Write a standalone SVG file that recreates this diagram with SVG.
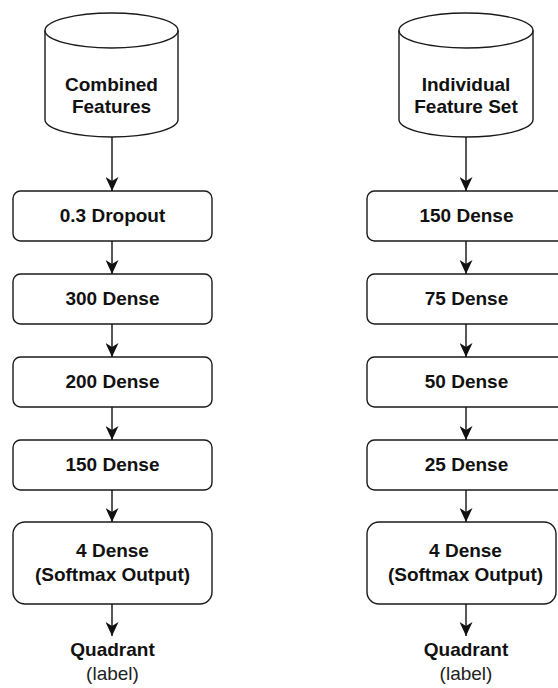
<svg xmlns="http://www.w3.org/2000/svg" width="558" height="688" viewBox="0 0 558 688">
  <style>
    .shape { fill: #ffffff; stroke: #1a1a1a; stroke-width: 1.4; }
    .lbl { font-family: "Liberation Sans", Arial, sans-serif; font-size: 19px; font-weight: bold; fill: #111111; text-anchor: middle; }
    .sub { font-family: "Liberation Sans", Arial, sans-serif; font-size: 19px; fill: #222222; text-anchor: middle; }
    .edge { fill: none; stroke: #111111; stroke-width: 1.4; marker-end: url(#arrow); }
  </style>
  <defs>
    <marker id="arrow" viewBox="0 0 14 13" refX="14" refY="6.5" markerWidth="14" markerHeight="13" markerUnits="userSpaceOnUse" orient="auto">
      <path d="M14,6.5 L0,0 L4,6.5 L0,13 Z" fill="#111111"/>
    </marker>
  </defs>
  <rect width="558" height="688" fill="#ffffff"/>

  <!-- left pipeline -->
  <g id="combined-features">
    <path class="shape" d="M45,30.5 L45,119.5 A66.5,17.5 0 0 0 178,119.5 L178,30.5 A66.5,17.5 0 0 0 45,30.5 Z"/>
    <path class="shape" style="fill:none" d="M45,30.5 A66.5,17.5 0 0 0 178,30.5"/>
    <text class="lbl" x="111.5" y="91">Combined</text>
    <text class="lbl" x="111.5" y="113">Features</text>
  </g>
  <g id="l-dropout">
    <rect class="shape" x="13" y="191" width="199" height="50" rx="7.5"/>
    <text class="lbl" x="112.5" y="222">0.3 Dropout</text>
  </g>
  <g id="l-dense300">
    <rect class="shape" x="13" y="274" width="199" height="50" rx="7.5"/>
    <text class="lbl" x="112.5" y="305">300 Dense</text>
  </g>
  <g id="l-dense200">
    <rect class="shape" x="13" y="357" width="199" height="50" rx="7.5"/>
    <text class="lbl" x="112.5" y="388">200 Dense</text>
  </g>
  <g id="l-dense150">
    <rect class="shape" x="13" y="440" width="199" height="50" rx="7.5"/>
    <text class="lbl" x="112.5" y="471">150 Dense</text>
  </g>
  <g id="l-softmax">
    <rect class="shape" x="13" y="522" width="199" height="82" rx="12"/>
    <text class="lbl" x="112.5" y="557">4 Dense</text>
    <text class="lbl" x="112.5" y="581">(Softmax Output)</text>
  </g>
  <g id="l-output">
    <text class="lbl" x="112.5" y="656">Quadrant</text>
    <text class="sub" x="112.5" y="680">(label)</text>
  </g>

  <!-- right pipeline -->
  <g id="individual-features">
    <path class="shape" d="M399,30.5 L399,119.5 A67,17.5 0 0 0 533,119.5 L533,30.5 A67,17.5 0 0 0 399,30.5 Z"/>
    <path class="shape" style="fill:none" d="M399,30.5 A67,17.5 0 0 0 533,30.5"/>
    <text class="lbl" x="466" y="91">Individual</text>
    <text class="lbl" x="466" y="113">Feature Set</text>
  </g>
  <g id="r-dense150">
    <rect class="shape" x="367" y="191" width="199" height="50" rx="7.5"/>
    <text class="lbl" x="466.5" y="222">150 Dense</text>
  </g>
  <g id="r-dense75">
    <rect class="shape" x="367" y="274" width="199" height="50" rx="7.5"/>
    <text class="lbl" x="466.5" y="305">75 Dense</text>
  </g>
  <g id="r-dense50">
    <rect class="shape" x="367" y="357" width="199" height="50" rx="7.5"/>
    <text class="lbl" x="466.5" y="388">50 Dense</text>
  </g>
  <g id="r-dense25">
    <rect class="shape" x="367" y="440" width="199" height="50" rx="7.5"/>
    <text class="lbl" x="466.5" y="471">25 Dense</text>
  </g>
  <g id="r-softmax">
    <rect class="shape" x="367" y="522" width="189" height="82" rx="12"/>
    <text class="lbl" x="465.5" y="557">4 Dense</text>
    <text class="lbl" x="465.5" y="581">(Softmax Output)</text>
  </g>
  <g id="r-output">
    <text class="lbl" x="466" y="656">Quadrant</text>
    <text class="sub" x="466" y="680">(label)</text>
  </g>

  <!-- connectors -->
  <g id="connectors">
    <path class="edge" d="M112,137 L112,191"/>
    <path class="edge" d="M112,241 L112,274"/>
    <path class="edge" d="M112,324 L112,357"/>
    <path class="edge" d="M112,407 L112,440"/>
    <path class="edge" d="M112,490 L112,522"/>
    <path class="edge" d="M112,604 L112,636"/>
    <path class="edge" d="M466,137 L466,191"/>
    <path class="edge" d="M466,241 L466,274"/>
    <path class="edge" d="M466,324 L466,357"/>
    <path class="edge" d="M466,407 L466,440"/>
    <path class="edge" d="M466,490 L466,522"/>
    <path class="edge" d="M466,604 L466,636"/>
  </g>
</svg>
